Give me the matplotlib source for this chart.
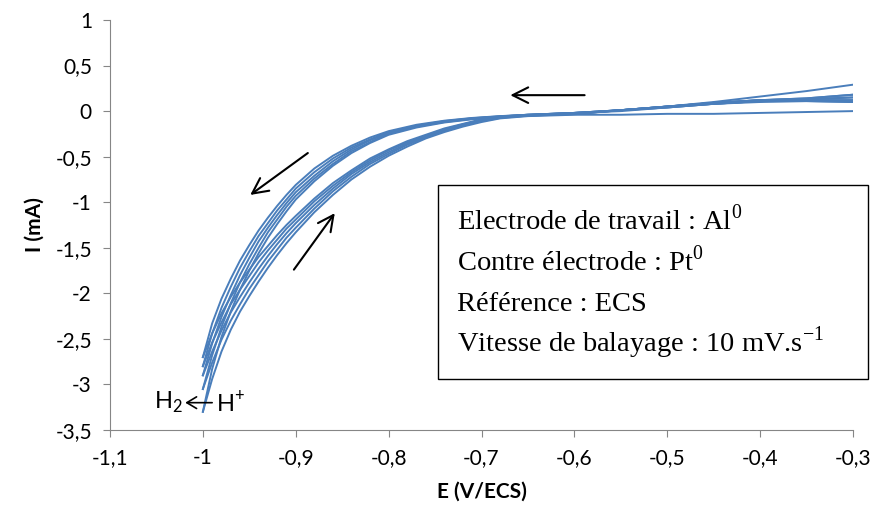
import matplotlib
matplotlib.use('Agg')
import matplotlib.pyplot as plt

plt.rcParams['font.family'] = ['Lato', 'DejaVu Sans']
plt.rcParams['mathtext.fontset'] = 'custom'
plt.rcParams['mathtext.rm'] = 'Liberation Serif'
plt.rcParams['mathtext.sf'] = 'Lato'

# potential grids (V/ECS)
e_fwd = [-0.30, -0.35, -0.40, -0.45, -0.50, -0.55, -0.60, -0.65, -0.68, -0.71,
         -0.74, -0.77, -0.80, -0.82, -0.84, -0.86, -0.88, -0.90, -0.91, -0.92,
         -0.93, -0.94, -0.95, -0.96, -0.97, -0.98, -0.99, -1.00]
e_rev = [-1.00, -0.99, -0.98, -0.97, -0.96, -0.95, -0.94, -0.93, -0.92, -0.91,
         -0.90, -0.88, -0.86, -0.84, -0.82, -0.80, -0.78, -0.76, -0.74, -0.72,
         -0.70, -0.68, -0.65, -0.60, -0.55, -0.50, -0.45, -0.40, -0.35, -0.30]

# cathodic sweeps (mA)
fwd1 = [0.29, 0.22, 0.16, 0.10, 0.05, 0.01, -0.02, -0.04, -0.055, -0.075,
        -0.105, -0.15, -0.22, -0.29, -0.38, -0.49, -0.63, -0.81, -0.92, -1.04,
        -1.17, -1.31, -1.47, -1.64, -1.84, -2.06, -2.33, -2.70]
fwd2 = [0.18, 0.14, 0.12, 0.09, 0.05, 0.01, -0.02, -0.04, -0.057, -0.078,
        -0.11, -0.16, -0.23, -0.31, -0.40, -0.52, -0.67, -0.85, -0.97, -1.09,
        -1.23, -1.37, -1.54, -1.72, -1.93, -2.16, -2.44, -2.80]
fwd3 = [0.15, 0.13, 0.12, 0.09, 0.05, 0.01, -0.02, -0.04, -0.06, -0.08,
        -0.115, -0.165, -0.24, -0.32, -0.42, -0.55, -0.71, -0.89, -1.01, -1.14,
        -1.28, -1.43, -1.61, -1.80, -2.02, -2.26, -2.55, -2.90]
fwd4 = [0.12, 0.12, 0.11, 0.08, 0.04, 0.01, -0.02, -0.04, -0.06, -0.085,
        -0.12, -0.17, -0.25, -0.34, -0.44, -0.58, -0.74, -0.93, -1.05, -1.19,
        -1.33, -1.50, -1.68, -1.88, -2.11, -2.37, -2.68, -3.05]
fwd5 = [0.10, 0.11, 0.10, 0.08, 0.04, 0.00, -0.02, -0.045, -0.065, -0.09,
        -0.125, -0.18, -0.26, -0.35, -0.46, -0.60, -0.77, -0.97, -1.10, -1.24,
        -1.39, -1.56, -1.75, -1.96, -2.20, -2.48, -2.83, -3.30]

# anodic return sweeps (mA)
rev1 = [-2.70, -2.44, -2.22, -2.04, -1.88, -1.74, -1.60, -1.48, -1.36, -1.25,
        -1.15, -0.96, -0.79, -0.65, -0.52, -0.42, -0.33, -0.26, -0.19, -0.14,
        -0.09, -0.065, -0.045, -0.03, 0.01, 0.05, 0.09, 0.12, 0.14, 0.18]
rev2 = [-2.80, -2.54, -2.32, -2.12, -1.96, -1.81, -1.66, -1.53, -1.41, -1.29,
        -1.19, -0.99, -0.82, -0.67, -0.54, -0.43, -0.345, -0.27, -0.20, -0.145,
        -0.095, -0.068, -0.048, -0.03, 0.01, 0.05, 0.09, 0.12, 0.13, 0.15]
rev3 = [-2.90, -2.64, -2.41, -2.21, -2.04, -1.88, -1.73, -1.59, -1.46, -1.34,
        -1.23, -1.03, -0.85, -0.69, -0.56, -0.45, -0.36, -0.28, -0.21, -0.15,
        -0.10, -0.07, -0.05, -0.03, 0.01, 0.05, 0.08, 0.11, 0.12, 0.12]
rev4 = [-3.05, -2.76, -2.51, -2.30, -2.12, -1.95, -1.80, -1.65, -1.52, -1.39,
        -1.28, -1.07, -0.88, -0.72, -0.58, -0.47, -0.37, -0.29, -0.22, -0.16,
        -0.11, -0.075, -0.05, -0.035, 0.01, 0.04, 0.08, 0.11, 0.11, 0.10]
rev5 = [-3.30, -2.94, -2.64, -2.40, -2.20, -2.03, -1.87, -1.72, -1.58, -1.45,
        -1.33, -1.11, -0.92, -0.75, -0.61, -0.49, -0.39, -0.30, -0.23, -0.17,
        -0.12, -0.08, -0.055, -0.04, -0.04, -0.03, -0.03, -0.02, -0.01, 0.00]

xticks = [-1.1, -1.0, -0.9, -0.8, -0.7, -0.6, -0.5, -0.4, -0.3]
xlabels = ['-1,1', '-1', '-0,9', '-0,8', '-0,7', '-0,6', '-0,5', '-0,4', '-0,3']
yticks = [1, 0.5, 0, -0.5, -1, -1.5, -2, -2.5, -3, -3.5]
ylabels = ['1', '0,5', '0', '-0,5', '-1', '-1,5', '-2', '-2,5', '-3', '-3,5']

info = ['Electrode de travail : Al$^{0}$',
        'Contre électrode : Pt$^{0}$',
        'Référence : ECS',
        'Vitesse de balayage : 10 mV.s$^{-1}$']

blue = '#4a7ebb'
grey = '#868686'

fig = plt.figure(figsize=(8.95, 5.14), dpi=100)
ax = fig.add_axes([0.1229, 0.1634, 0.8302, 0.7977])

for f in [fwd1, fwd2, fwd3, fwd4, fwd5]:
    ax.plot(e_fwd, f, color=blue, lw=1.4)
for r in [rev1, rev2, rev3, rev4, rev5]:
    ax.plot(e_rev, r, color=blue, lw=1.4)

ax.set_xlim(-1.1, -0.3)
ax.set_ylim(-3.5, 1)
ax.set_xticks(xticks)
ax.set_xticklabels(xlabels)
ax.set_yticks(yticks)
ax.set_yticklabels(ylabels)
ax.tick_params(direction='out', length=5, color=grey, labelsize=15, pad=8)
for s in ['top', 'right']:
    ax.spines[s].set_visible(False)
for s in ['left', 'bottom']:
    ax.spines[s].set_color(grey)
ax.set_xlabel('E (V/ECS)', fontsize=15, fontweight='bold', labelpad=10)
ax.set_ylabel('I (mA)', fontsize=15, fontweight='bold', labelpad=8)

arrow = dict(arrowstyle='->, head_length=0.7, head_width=0.35', color='black',
             lw=1.5, mutation_scale=16, shrinkA=0, shrinkB=0)
ax.annotate('', xy=(-0.669, 0.175), xytext=(-0.589, 0.175), arrowprops=arrow)
ax.annotate('', xy=(-0.949, -0.92), xytext=(-0.887, -0.46), arrowprops=arrow)
ax.annotate('', xy=(-0.858, -1.12), xytext=(-0.902, -1.74), arrowprops=arrow)
ax.annotate('', xy=(-1.019, -3.2), xytext=(-0.990, -3.2),
            arrowprops=dict(arrowstyle='->, head_length=0.5, head_width=0.3',
                            color='black', lw=1.2, mutation_scale=14,
                            shrinkA=0, shrinkB=0))
ax.text(-1.022, -3.2, r'H$_{\mathsf{2}}$', fontsize=17, ha='right', va='center')
ax.text(-0.986, -3.2, r'H$^{\mathsf{+}}$', fontsize=17, ha='left', va='center')

box = plt.Rectangle((-0.747, -2.945), 0.463, 2.13, fill=False, edgecolor='black',
                    lw=1.0, transform=ax.transData, clip_on=False)
ax.add_patch(box)
for i, line in enumerate(info):
    ax.text(-0.726, -1.30 - i * 0.445, line, fontsize=20.5, family='Liberation Serif',
            ha='left', va='baseline')

plt.savefig('out.png', dpi=100)
